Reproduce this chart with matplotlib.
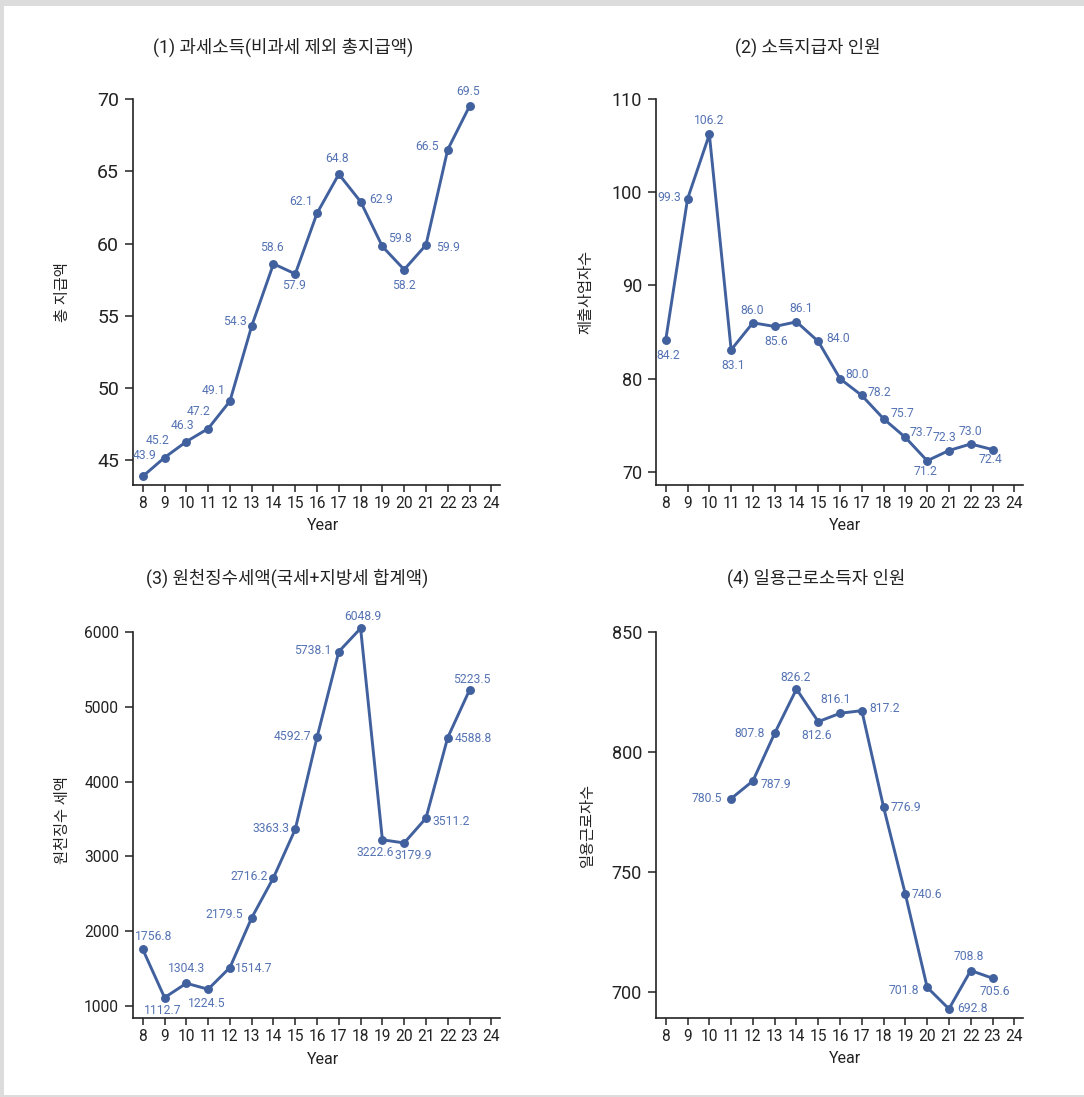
import matplotlib
matplotlib.use('Agg')
import matplotlib.pyplot as plt
from matplotlib.patches import Rectangle

plt.rcParams['font.family'] = ['Roboto', 'Noto Sans CJK KR', 'DejaVu Sans']

# ---- data -------------------------------------------------------------
years_full = [8, 9, 10, 11, 12, 13, 14, 15, 16, 17, 18, 19, 20, 21, 22, 23]
years_daily = [11, 12, 13, 14, 15, 16, 17, 18, 19, 20, 21, 22, 23]

taxable_income = [43.9, 45.2, 46.3, 47.2, 49.1, 54.3, 58.6, 57.9,
                  62.1, 64.8, 62.9, 59.8, 58.2, 59.9, 66.5, 69.5]
payers = [84.2, 99.3, 106.2, 83.1, 86.0, 85.6, 86.1, 84.0,
          80.0, 78.2, 75.7, 73.7, 71.2, 72.3, 73.0, 72.4]
withholding_tax = [1756.8, 1112.7, 1304.3, 1224.5, 1514.7, 2179.5, 2716.2, 3363.3,
                   4592.7, 5738.1, 6048.9, 3222.6, 3179.9, 3511.2, 4588.8, 5223.5]
daily_workers = [780.5, 787.9, 807.8, 826.2, 812.6, 816.1, 817.2,
                 776.9, 740.6, 701.8, 692.8, 708.8, 705.6]

titles = ['(1) 과세소득(비과세 제외 총지급액)',
          '(2) 소득지급자 인원',
          '(3) 원천징수세액(국세+지방세 합계액)',
          '(4) 일용근로소득자 인원']
ylabels = ['총 지급액', '제출사업자수', '원천징수 세액', '일용근로자수']
xlabel = 'Year'
xticks = list(range(8, 25))

# ---- label placement (pixel offsets of each value label from its point) ----
offs1 = [(2, -21), (-7, -17), (-4, -16), (-10, -17), (-16, -11), (-17, -4),
         (-2, -16), (-1, 12), (-16, -12), (-2, -16), (21, -2), (18, -8),
         (0, 16), (22, 2), (-21, -3), (-1, -15)]
offs2 = [(2, 16), (-18, -1), (0, -14), (2, 16), (-1, -12), (1, 15), (5, -13),
         (20, -3), (17, -4), (18, -3), (19, -5), (16, -5), (-2, 11), (-4, -13),
         (0, -12), (-2, 10)]
offs3 = [(11, -13), (-2, 13), (0, -15), (-1, 14), (24, 1), (-27, -3), (-24, -1),
         (-24, -1), (-25, -1), (-26, -1), (2, -12), (-7, 13), (9, 13), (25, 3),
         (26, 1), (2, -11)]
offs4 = [(-24, 0), (23, 4), (-25, 0), (-1, -12), (-2, 14), (-4, -14), (23, -2),
         (22, 0), (21, 0), (-23, 3), (24, 0), (-2, -14), (2, 13)]

LINE = '#41609e'
LABEL = '#5573b3'
INK = '#222222'

W, H = 1084, 1097
fig = plt.figure(figsize=(W / 100, H / 100), dpi=100)
fig.patch.set_facecolor('#dcdcdc')
fig.patches.append(Rectangle((4 / W, 2 / H), (W - 4) / W, (H - 8) / H,
                             transform=fig.transFigure, facecolor='white',
                             edgecolor='none', zorder=-10))

XLIM = (7.55, 24.4)


def make_axes(left_px, top_tick_px, bottom_px, top_tick, ylo, yhi):
    """Create axes whose top tick sits at top_tick_px and x axis at bottom_px."""
    width_px = 367
    ppu = (bottom_px - top_tick_px) / (top_tick - ylo)
    top_px = top_tick_px - (yhi - top_tick) * ppu
    ax = fig.add_axes([left_px / W, 1 - bottom_px / H,
                       width_px / W, (bottom_px - top_px) / H])
    ax.set_xlim(*XLIM)
    ax.set_ylim(ylo, yhi)
    ax.patch.set_alpha(0)
    return ax


def style(ax, yticks, top_tick, ylo, ytick_size, ylabel, title, title_x, title_y,
          ylabel_x_px, left_px):
    for s in ('top', 'right'):
        ax.spines[s].set_visible(False)
    for s in ('left', 'bottom'):
        ax.spines[s].set_color(INK)
        ax.spines[s].set_linewidth(1.2)
    ax.spines['left'].set_bounds(ylo, top_tick)
    ax.set_xticks(xticks)
    ax.set_yticks(yticks)
    ax.tick_params(axis='x', length=5, width=1.1, color=INK, labelsize=11.2,
                   labelcolor=INK, pad=3)
    ax.tick_params(axis='y', length=6, width=1.1, color=INK, labelsize=ytick_size,
                   labelcolor=INK, pad=4)
    ax.set_xlabel(xlabel, fontsize=11.5, color=INK)
    ax.xaxis.set_label_coords((323 - left_px) / 367, -0.085)
    ax.set_ylabel(ylabel, fontsize=11, color=INK)
    ax.yaxis.set_label_coords((ylabel_x_px - left_px) / 367, 0.5)
    fig.text(title_x / W, 1 - title_y / H, title, fontsize=12.8, color=INK,
             ha='center', va='center')


def draw(ax, xs, ys, offs):
    ax.plot(xs, ys, color=LINE, lw=2.1, marker='o', ms=5.4, clip_on=False, zorder=3)
    for x, y, (dx, dy) in zip(xs, ys, offs):
        ax.annotate(f'{y:.1f}', (x, y), xytext=(dx, -dy), textcoords='offset pixels',
                    ha='center', va='center', fontsize=8.7, color=LABEL, zorder=4)


# (1)
ax1 = make_axes(133, 99, 485, 70, 43.3, 70)
draw(ax1, years_full, taxable_income, offs1)
style(ax1, [45, 50, 55, 60, 65, 70], 70, 43.3, 14, ylabels[0], titles[0],
      283, 47, 70, 133)

# (2)
ax2 = make_axes(656, 99, 485, 110, 68.6, 110)
draw(ax2, years_full, payers, offs2)
style(ax2, [70, 80, 90, 100, 110], 110, 68.6, 13, ylabels[1], titles[1],
      808, 47, 593, 656)
ax2.xaxis.set_label_coords((845 - 656) / 367, -0.085)

# (3)
ax3 = make_axes(133, 632, 1018, 6000, 840, 6130)
draw(ax3, years_full, withholding_tax, offs3)
style(ax3, [1000, 2000, 3000, 4000, 5000, 6000], 6000, 840, 11.2, ylabels[2],
      titles[2], 287, 578, 70, 133)

# (4)
ax4 = make_axes(656, 632, 1018, 850, 689, 850)
draw(ax4, years_daily, daily_workers, offs4)
style(ax4, [700, 750, 800, 850], 850, 689, 13, ylabels[3], titles[3],
      816, 578, 595, 656)
ax4.xaxis.set_label_coords((845 - 656) / 367, -0.085)

fig.savefig('out.png', dpi=100, facecolor=fig.get_facecolor())
